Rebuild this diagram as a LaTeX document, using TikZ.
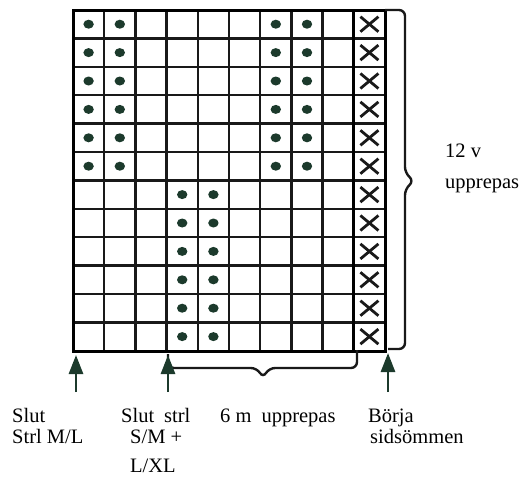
\documentclass[tikz,border=0pt]{standalone}
\usepackage{fontspec}
\setmainfont{Liberation Serif}
\usetikzlibrary{arrows.meta}
\definecolor{inkgreen}{HTML}{1C3A2C}
\begin{document}
\begin{tikzpicture}[x=1pt,y=-1pt,
  gridline/.style={line width=2.3pt,black!90},
  dotmark/.style={fill=inkgreen,draw=none},
  xmark/.style={line width=2.8pt,black!90},
  bracepath/.style={line width=2.4pt,black!90,rounded corners=6pt},
  uparrow/.style={line width=2.8pt,inkgreen,-{Triangle[length=19pt,width=14pt]}},
  lbl/.style={anchor=base west,inner sep=0pt,font=\fontsize{20.5}{22}\selectfont}]
\useasboundingbox (0,0) rectangle (527,477);
\def\cw{31.2}
\def\rh{28.4}
% grid
\foreach \i in {0,...,10} {\draw[gridline] ({73+\i*\cw},10) -- ({73+\i*\cw},351);}
\foreach \j in {0,...,12} {\draw[gridline] (73,{10+\j*\rh}) -- (385,{10+\j*\rh});}
\draw[line width=3pt] ({73+9*\cw},10) -- ({73+9*\cw},351);
\draw[line width=3pt] (73,10) rectangle (385,351);
% dots top rows
\foreach \j in {0,...,5} {
  \foreach \i in {0,1,6,7} {
    \fill[dotmark] ({73+(\i+0.5)*\cw},{10+(\j+0.5)*\rh}) ellipse (5.2pt and 4.5pt);
  }
}
\foreach \j in {6,...,11} {
  \foreach \i in {3,4} {
    \fill[dotmark] ({73+(\i+0.5)*\cw},{10+(\j+0.5)*\rh}) ellipse (5.2pt and 4.5pt);
  }
}
% X marks
\foreach \j in {0,...,11} {
  \draw[xmark] ({73+9.5*\cw-9},{10+(\j+0.5)*\rh-7.5}) -- ({73+9.5*\cw+9},{10+(\j+0.5)*\rh+7.5});
  \draw[xmark] ({73+9.5*\cw-9},{10+(\j+0.5)*\rh+7.5}) -- ({73+9.5*\cw+9},{10+(\j+0.5)*\rh-7.5});
}
% right brace
\draw[bracepath] (385,10) -- (405,10) -- (405,173) -- (414,181) -- (405,189) -- (405,349) -- (388,349);
% bottom brace
\draw[bracepath] (168,354) -- (168,368) -- (257,368) -- (263,378) -- (269,368) -- (357,368) -- (357,350);
% arrows
\coordinate (a1s) at (76,392); \coordinate (a1e) at (76,355);
\coordinate (a2s) at (168,392); \coordinate (a2e) at (168,355);
\coordinate (a3s) at (388,392); \coordinate (a3e) at (388,353);
\draw[uparrow] (a1s) -- (a1e);
\draw[uparrow] (a2s) -- (a2e);
\draw[uparrow] (a3s) -- (a3e);
% labels
\node[lbl] (t1) at (445,157) {12 v};
\node[lbl] (t2) at (445,188) {upprepas};
\node[lbl] (b1) at (12,422) {Slut};
\node[lbl] (b2) at (12,443) {Strl M/L};
\node[lbl] (b3) at (121,422) {Slut\hspace{10pt}strl};
\node[lbl] (b4) at (130,443) {S/M +};
\node[lbl] (b5) at (130,472) {L/XL};
\node[lbl] (b6) at (220,422) {6 m\hspace{10pt}upprepas};
\node[lbl] (b7) at (368,422) {Börja};
\node[lbl] (b8) at (370,443) {sidsömmen};
\end{tikzpicture}
\end{document}
